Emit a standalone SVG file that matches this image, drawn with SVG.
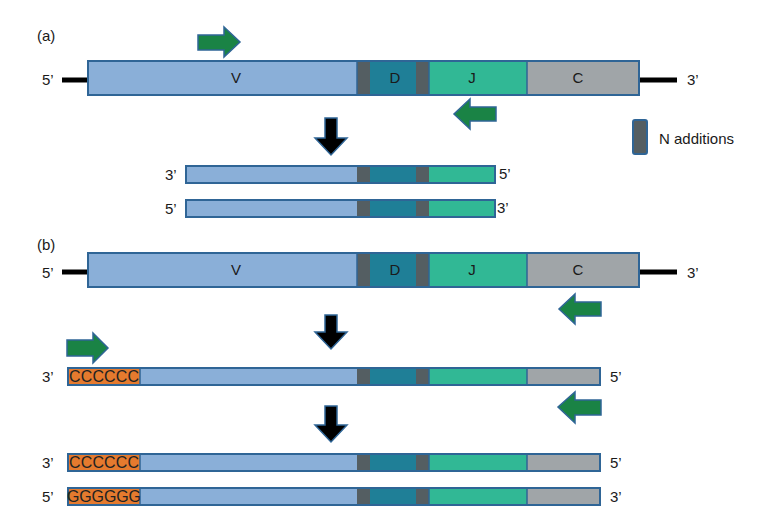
<svg xmlns="http://www.w3.org/2000/svg" width="768" height="520" viewBox="0 0 768 520">
<style>
text{font-family:"Liberation Sans",Arial,sans-serif;font-size:15px;fill:#1a1a1a}
.v{fill:#8aafd8}.n{fill:#545e62}.d{fill:#1f7f97}.j{fill:#31b895}.c{fill:#a0a5a8}.o{fill:#e57a2e}
.frame{fill:none;stroke:#2f6596;stroke-width:2}
.sep{stroke:#2f6596;stroke-width:1.5}
.line{stroke:#000;stroke-width:5}
.g{fill:#1a8345;stroke:#2f6596;stroke-width:1.5}
.k{fill:#000;stroke:#2f6596;stroke-width:1.5}
.ct{font-size:16px;fill:#222}
</style>
<rect width="768" height="520" fill="#fff"/>
<text x="37" y="41">(a)</text>
<text x="37" y="250">(b)</text>

<g id="connectors">
<line class="line" x1="62" y1="80" x2="88" y2="80"/>
<line class="line" x1="639" y1="80" x2="677" y2="80"/>
<line class="line" x1="62" y1="272" x2="88" y2="272"/>
<line class="line" x1="639" y1="272" x2="677" y2="272"/>
<path class="k" d="M325,118 H337 V138 H347 L331,155 L315,138 H325 Z"/>
<path class="k" d="M325,315 H337 V332 H347 L331,349 L315,332 H325 Z"/>
<path class="k" d="M325,406 H337 V425 H347 L331,442 L315,425 H325 Z"/>
</g>

<g id="primer-a-fwd"><path class="g" d="M198,35 H224 V27 L240,42 L224,57 V50 H198 Z"/></g>
<g id="primer-a-rev"><path class="g" d="M496,107 H470 V99 L454,114 L470,129 V121 H496 Z"/></g>
<g id="primer-b-rev1"><path class="g" d="M601,302 H575 V294 L559,309 L575,324 V316 H601 Z"/></g>
<g id="primer-b-fwd"><path class="g" d="M67,340 H93 V333 L108,348 L93,363 V356 H67 Z"/></g>
<g id="primer-b-rev2"><path class="g" d="M601,400 H575 V392 L558,407 L575,423 V415 H601 Z"/></g>

<g id="gene-a">
<rect class="v" x="88" y="61" width="269" height="34"/>
<rect class="n" x="357" y="61" width="13" height="34"/>
<rect class="d" x="370" y="61" width="46" height="34"/>
<rect class="n" x="416" y="61" width="13" height="34"/>
<rect class="j" x="429" y="61" width="98" height="34"/>
<rect class="c" x="527" y="61" width="112" height="34"/>
<line class="sep" x1="357" y1="61" x2="357" y2="95"/>
<line class="sep" x1="429" y1="61" x2="429" y2="95"/>
<line class="sep" x1="527" y1="61" x2="527" y2="95"/>
<rect class="frame" x="88" y="61" width="551" height="34"/>
<text x="236" y="83" text-anchor="middle">V</text>
<text x="395" y="83" text-anchor="middle">D</text>
<text x="472" y="83" text-anchor="middle">J</text>
<text x="578" y="83" text-anchor="middle">C</text>
<text x="42" y="85">5’</text>
<text x="687" y="85">3’</text>
</g>

<g id="legend">
<rect x="633" y="120" width="14" height="34" rx="2" fill="#545e62" stroke="#2f6596" stroke-width="2"/>
<text x="659" y="144">N additions</text>
</g>

<g id="strand-a1">
<rect class="v" x="186" y="166" width="171" height="17"/>
<rect class="n" x="357" y="166" width="13" height="17"/>
<rect class="d" x="370" y="166" width="46" height="17"/>
<rect class="n" x="416" y="166" width="13" height="17"/>
<rect class="j" x="429" y="166" width="66" height="17"/>
<rect class="frame" x="186" y="166" width="309" height="17"/>
<text x="165" y="180">3’</text>
<text x="499" y="179">5’</text>
</g>

<g id="strand-a2">
<rect class="v" x="186" y="200" width="171" height="17"/>
<rect class="n" x="357" y="200" width="13" height="17"/>
<rect class="d" x="370" y="200" width="46" height="17"/>
<rect class="n" x="416" y="200" width="13" height="17"/>
<rect class="j" x="429" y="200" width="66" height="17"/>
<rect class="frame" x="186" y="200" width="309" height="17"/>
<text x="165" y="214">5’</text>
<text x="497" y="213">3’</text>
</g>

<g id="gene-b">
<rect class="v" x="88" y="253" width="269" height="34"/>
<rect class="n" x="357" y="253" width="13" height="34"/>
<rect class="d" x="370" y="253" width="46" height="34"/>
<rect class="n" x="416" y="253" width="13" height="34"/>
<rect class="j" x="429" y="253" width="98" height="34"/>
<rect class="c" x="527" y="253" width="112" height="34"/>
<line class="sep" x1="357" y1="253" x2="357" y2="287"/>
<line class="sep" x1="429" y1="253" x2="429" y2="287"/>
<line class="sep" x1="527" y1="253" x2="527" y2="287"/>
<rect class="frame" x="88" y="253" width="551" height="34"/>
<text x="236" y="275" text-anchor="middle">V</text>
<text x="395" y="275" text-anchor="middle">D</text>
<text x="472" y="275" text-anchor="middle">J</text>
<text x="578" y="275" text-anchor="middle">C</text>
<text x="42" y="278">5’</text>
<text x="687" y="278">3’</text>
</g>

<g id="strand-b1">
<rect class="o" x="68" y="368" width="72" height="17"/>
<rect class="v" x="140" y="368" width="217" height="17"/>
<rect class="n" x="357" y="368" width="13" height="17"/>
<rect class="d" x="370" y="368" width="46" height="17"/>
<rect class="n" x="416" y="368" width="13" height="17"/>
<rect class="j" x="429" y="368" width="98" height="17"/>
<rect class="c" x="527" y="368" width="73" height="17"/>
<line class="sep" x1="140" y1="368" x2="140" y2="385"/>
<line class="sep" x1="429" y1="368" x2="429" y2="385"/>
<line class="sep" x1="527" y1="368" x2="527" y2="385"/>
<rect class="frame" x="68" y="368" width="532" height="17"/>
<text class="ct" x="69" y="382" textLength="70">CCCCCC</text>
<text x="42" y="382">3’</text>
<text x="610" y="382">5’</text>
</g>

<g id="strand-b2">
<rect class="o" x="68" y="454" width="72" height="17"/>
<rect class="v" x="140" y="454" width="217" height="17"/>
<rect class="n" x="357" y="454" width="13" height="17"/>
<rect class="d" x="370" y="454" width="46" height="17"/>
<rect class="n" x="416" y="454" width="13" height="17"/>
<rect class="j" x="429" y="454" width="98" height="17"/>
<rect class="c" x="527" y="454" width="73" height="17"/>
<line class="sep" x1="140" y1="454" x2="140" y2="471"/>
<line class="sep" x1="429" y1="454" x2="429" y2="471"/>
<line class="sep" x1="527" y1="454" x2="527" y2="471"/>
<rect class="frame" x="68" y="454" width="532" height="17"/>
<text class="ct" x="69" y="468" textLength="70">CCCCCC</text>
<text x="42" y="468">3’</text>
<text x="610" y="468">5’</text>
</g>

<g id="strand-b3">
<rect class="o" x="68" y="488" width="72" height="17"/>
<rect class="v" x="140" y="488" width="217" height="17"/>
<rect class="n" x="357" y="488" width="13" height="17"/>
<rect class="d" x="370" y="488" width="46" height="17"/>
<rect class="n" x="416" y="488" width="13" height="17"/>
<rect class="j" x="429" y="488" width="98" height="17"/>
<rect class="c" x="527" y="488" width="73" height="17"/>
<line class="sep" x1="140" y1="488" x2="140" y2="505"/>
<line class="sep" x1="429" y1="488" x2="429" y2="505"/>
<line class="sep" x1="527" y1="488" x2="527" y2="505"/>
<rect class="frame" x="68" y="488" width="532" height="17"/>
<text class="ct" x="67" y="502" textLength="74">GGGGGG</text>
<text x="42" y="502">5’</text>
<text x="610" y="502">3’</text>
</g>
</svg>
